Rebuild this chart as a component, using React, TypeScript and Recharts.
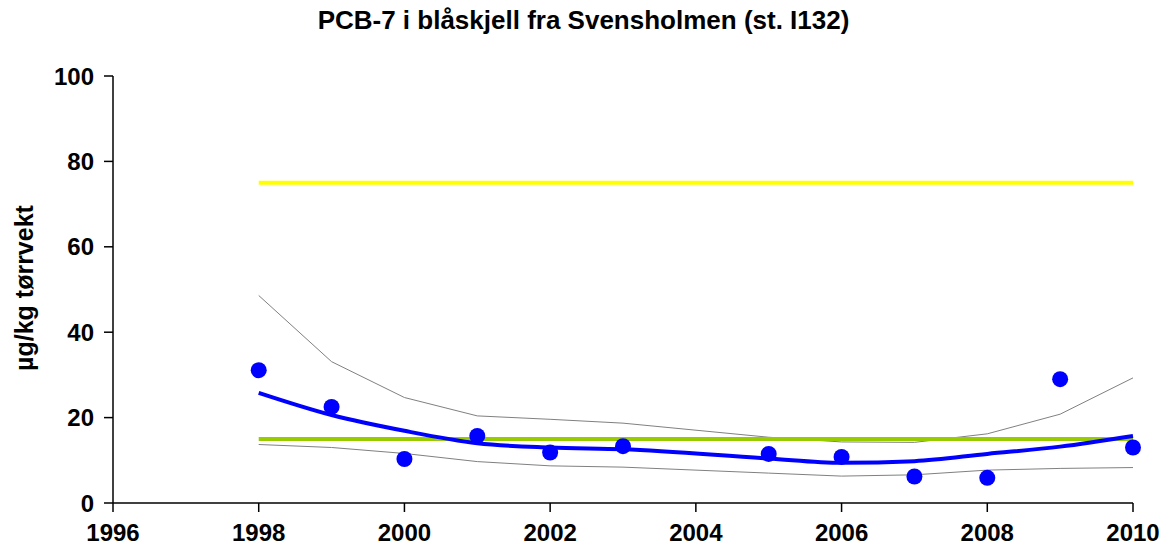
import { ComposedChart, Line, XAxis, YAxis, Label } from "recharts";

const years = [1998, 1999, 2000, 2001, 2002, 2003, 2005, 2006, 2007, 2008, 2009, 2010];
const measured = [31.1, 22.5, 10.3, 15.7, 11.8, 13.3, 11.5, 10.8, 6.2, 5.9, 29.0, 13.0];
const trend = [25.8, 20.6, 16.9, 14.0, 13.0, 12.6, 10.4, 9.4, 9.8, 11.5, 13.2, 15.7];
const upperBand = [48.6, 33.1, 24.7, 20.4, 19.6, 18.7, 15.4, 14.3, 14.2, 16.2, 20.8, 29.3];
const lowerBand = [13.7, 13.0, 11.6, 9.7, 8.7, 8.4, 7.0, 6.3, 6.6, 7.7, 8.1, 8.3];
const yellowLimit = 75;
const greenLimit = 15;
const xTicks = [1996, 1998, 2000, 2002, 2004, 2006, 2008, 2010];
const yTicks = [0, 20, 40, 60, 80, 100];

const rows = years.map((year, i) => ({
  year,
  measured: measured[i],
  trend: trend[i],
  upper: upperBand[i],
  lower: lowerBand[i],
  yellow: yellowLimit,
  green: greenLimit,
}));

const font = "'Liberation Sans', Arial, sans-serif";
const tickStyle = { fontFamily: font, fontSize: 24, fontWeight: 700, fill: "#000" };

export default function App() {
  return (
    <div style={{ position: "absolute", left: 0, top: 0, width: 1167, height: 558, background: "#fff" }}>
      <div
        style={{
          position: "absolute",
          top: 5,
          left: 0,
          width: 1167,
          textAlign: "center",
          fontFamily: font,
          fontWeight: 700,
          fontSize: 26,
          color: "#000",
        }}
      >
        PCB-7 i blåskjell fra Svensholmen (st. I132)
      </div>
      <ComposedChart width={1167} height={558} data={rows} margin={{ top: 76, right: 34, bottom: 0, left: 0 }}>
        <XAxis
          dataKey="year"
          type="number"
          domain={[1996, 2010]}
          ticks={xTicks}
          height={55}
          tickSize={9}
          tickMargin={12}
          axisLine={{ stroke: "#000", strokeWidth: 1.5 }}
          tickLine={{ stroke: "#000", strokeWidth: 1.5 }}
          tick={tickStyle}
          interval={0}
        />
        <YAxis
          type="number"
          domain={[0, 100]}
          ticks={yTicks}
          width={113}
          tickSize={9}
          tickMargin={10}
          axisLine={{ stroke: "#000", strokeWidth: 1.5 }}
          tickLine={{ stroke: "#000", strokeWidth: 1.5 }}
          tick={tickStyle}
          interval={0}
        >
          <Label
            content={() => (
              <text
                x={24}
                y={288}
                transform="rotate(-90 24 288)"
                textAnchor="middle"
                dominantBaseline="central"
                style={{ fontFamily: font, fontSize: 25, fontWeight: 700, fill: "#000" }}
              >
                µg/kg tørrvekt
              </text>
            )}
          />
        </YAxis>
        <Line dataKey="upper" stroke="#808080" strokeWidth={1} dot={false} isAnimationActive={false} />
        <Line dataKey="lower" stroke="#808080" strokeWidth={1} dot={false} isAnimationActive={false} />
        <Line dataKey="yellow" stroke="#FFFF00" strokeWidth={4} dot={false} isAnimationActive={false} />
        <Line dataKey="green" stroke="#99CC00" strokeWidth={4} dot={false} isAnimationActive={false} />
        <Line type="monotone" dataKey="trend" stroke="#0000FF" strokeWidth={4} dot={false} isAnimationActive={false} />
        <Line
          dataKey="measured"
          stroke="none"
          dot={{ r: 8, fill: "#0000FF", stroke: "none" }}
          activeDot={false}
          isAnimationActive={false}
        />
      </ComposedChart>
    </div>
  );
}
